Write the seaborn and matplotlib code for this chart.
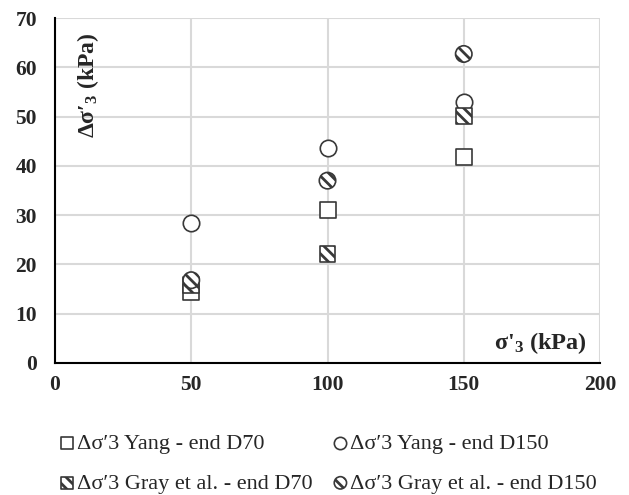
import matplotlib
matplotlib.use("Agg")
import matplotlib.pyplot as plt
import seaborn as sns
import pandas as pd

x_vals = [50, 100, 150]
yang_d70 = [14.4, 31.0, 41.8]
yang_d150 = [28.5, 43.6, 52.9]
gray_d70 = [15.8, 22.1, 50.1]
gray_d150 = [16.8, 37.0, 62.7]
labels = ["Δσ′3 Yang - end D70", "Δσ′3 Yang - end D150",
          "Δσ′3 Gray et al. - end D70", "Δσ′3 Gray et al. - end D150"]
x_ticks = [0, 50, 100, 150, 200]
y_ticks = [0, 10, 20, 30, 40, 50, 60, 70]

sns.set_style("white")
plt.rcParams['font.family'] = ['Liberation Serif', 'DejaVu Serif']
plt.rcParams['mathtext.fontset'] = 'custom'
plt.rcParams['mathtext.rm'] = 'Liberation Serif'
plt.rcParams['mathtext.bf'] = 'Liberation Serif:bold'
plt.rcParams['mathtext.it'] = 'Liberation Serif:italic'
plt.rcParams['hatch.linewidth'] = 2.0

fig = plt.figure(figsize=(6.29, 4.95), dpi=100)
ax = fig.add_axes([55/629, 1-363/495, 545/629, 345/495])

series = [
    (yang_d70, 's', None),
    (yang_d150, 'o', None),
    (gray_d70, 's', '\\\\\\'),
    (gray_d150, 'o', '\\\\\\'),
]
handles = []
for (vals, mk, hatch), lab in zip(series, labels):
    df = pd.DataFrame({"x": x_vals, "y": vals})
    kw = dict(marker=mk, s=140 if mk == 'o' else 130, facecolor='white',
              edgecolor='#383838', linewidth=1.2, zorder=3)
    if hatch:
        kw['hatch'] = hatch
    sns.scatterplot(data=df, x="x", y="y", ax=ax, label=lab, legend=False, **kw)
    handles.append(ax.collections[-1])

ax.set_xlim(0, 200)
ax.set_ylim(0, 70)
ax.set_xticks(x_ticks)
ax.set_yticks(y_ticks)
ax.grid(True, color='#d9d9d9', linewidth=1.5)
ax.set_axisbelow(True)
for s in ['top', 'right']:
    ax.spines[s].set_visible(False)
for s in ['left', 'bottom']:
    ax.spines[s].set_color('black')
    ax.spines[s].set_linewidth(1.5)
ax.tick_params(axis='both', length=0, labelsize=15.5)
ax.tick_params(axis='x', pad=9)
ax.tick_params(axis='y', pad=13)
for t in ax.get_xticklabels() + ax.get_yticklabels():
    t.set_fontweight('bold')
ax.set_xlabel("")
ax.set_ylabel("")

ax.text(33/545, 1-15/345, r"Δσ′$_{\mathbf{3}}$ (kPa)", transform=ax.transAxes,
        rotation=90, ha='center', va='top', fontsize=17, fontweight='bold')
ax.text(532/545, 7/345, r"σ'$_{\mathbf{3}}$ (kPa)", transform=ax.transAxes,
        ha='right', va='bottom', fontsize=17.5, fontweight='bold')

order = [0, 2, 1, 3]
leg = fig.legend(handles=[handles[i] for i in order], labels=[labels[i] for i in order],
                 loc='upper left', bbox_to_anchor=(57/629, 1-433/495), ncol=2,
                 frameon=False, fontsize=16, handletextpad=0.0, columnspacing=0.8,
                 labelspacing=0.88, handlelength=0.9, markerscale=0.75,
                 borderaxespad=0, borderpad=0)

fig.savefig("out.png", dpi=100)
